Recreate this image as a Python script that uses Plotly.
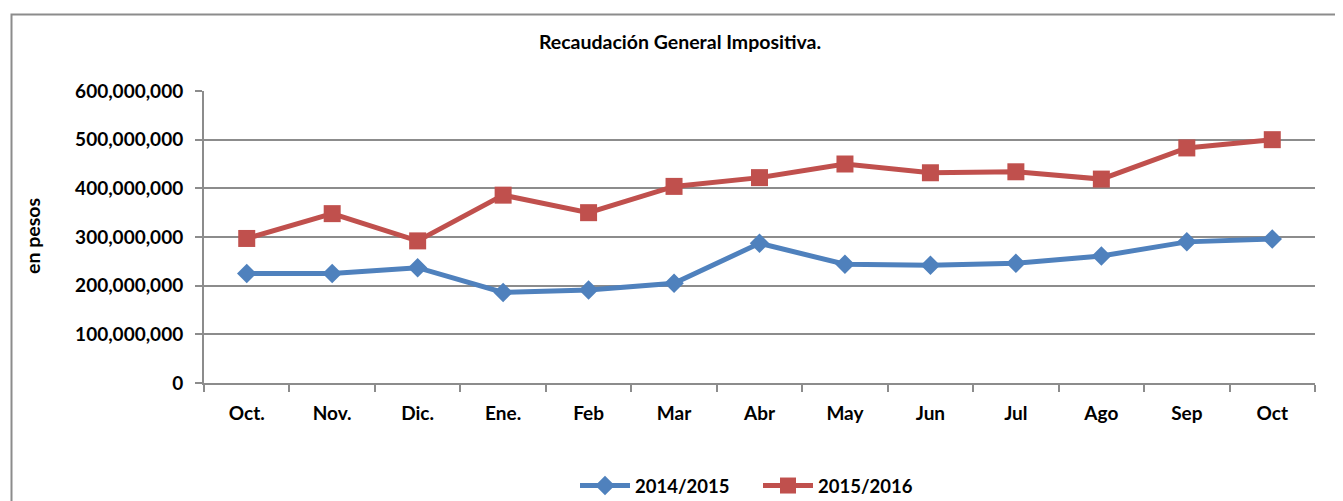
import plotly.graph_objects as go

months = ["Oct.", "Nov.", "Dic.", "Ene.", "Feb", "Mar", "Abr", "May", "Jun", "Jul", "Ago", "Sep", "Oct"]
serie_2014_2015 = [225e6, 225e6, 237e6, 186e6, 191e6, 205e6, 287e6, 244e6, 242e6, 246e6, 261e6, 290e6, 296e6]
serie_2015_2016 = [297e6, 348e6, 292e6, 386e6, 350e6, 404e6, 422e6, 450e6, 432e6, 434e6, 419e6, 483e6, 500e6]
y_ticks = [0, 100e6, 200e6, 300e6, 400e6, 500e6, 600e6]
y_tick_labels = ["0", "100,000,000", "200,000,000", "300,000,000", "400,000,000", "500,000,000", "600,000,000"]

FONT = "Lato"
W, H = 1343, 501
OFF = 8  # page body margin offset
# target plot area in screen pixels: left 204, right 1315, top 91, bottom 383
L = 204 - OFF
T = 91 - OFF
R = W - (1315 - OFF)
B = H - (383 - OFF)
pw = W - L - R
ph = H - T - B

def sx(px):
    """screen x pixel -> paper x"""
    return (px - OFF - L) / pw

def sy(py):
    """screen y pixel -> paper y"""
    return (H - B - (py - OFF)) / ph

fig = go.Figure()
fig.add_trace(go.Scatter(
    x=months, y=serie_2014_2015, name="2014/2015", mode="lines+markers",
    line=dict(color="#4F81BD", width=5),
    marker=dict(symbol="diamond", size=15, color="#4F81BD"),
))
fig.add_trace(go.Scatter(
    x=months, y=serie_2015_2016, name="2015/2016", mode="lines+markers",
    line=dict(color="#C0504D", width=5),
    marker=dict(symbol="square", size=17, color="#C0504D"),
))

tickfont = dict(family=FONT, size=19, color="black", weight="bold")

fig.update_layout(
    width=W, height=H,
    margin=dict(l=L, r=R, t=T, b=B),
    paper_bgcolor="white", plot_bgcolor="white",
    font=dict(family=FONT, size=19, color="black"),
    title=dict(text="<b>Recaudación General Impositiva.</b>", xref="container", yref="container",
               x=(680 - OFF) / W, xanchor="center",
               y=1 - (42 - OFF) / H, yanchor="middle", font=dict(family=FONT, size=19.5, color="black")),
    showlegend=True,
    legend=dict(orientation="h", xref="container", yref="container",
                x=(758 - OFF) / W, xanchor="center",
                y=1 - (486 - OFF) / H, yanchor="middle",
                font=dict(family=FONT, size=18.5, color="black", weight="bold"),
                itemwidth=50, entrywidth=118,
                bgcolor="rgba(0,0,0,0)"),
    xaxis=dict(
        type="category", range=[-0.5, len(months) - 0.5],
        showline=True, linecolor="#8C8C8C", linewidth=2,
        ticks="outside", tickson="boundaries", ticklen=7, tickcolor="#8C8C8C", tickwidth=2,
        showgrid=False, tickfont=tickfont,
        ticklabelstandoff=12,
    ),
    yaxis=dict(
        range=[0, 600e6], tickmode="array", tickvals=y_ticks, ticktext=y_tick_labels,
        showline=True, linecolor="#8C8C8C", linewidth=2,
        ticks="outside", ticklen=7, tickcolor="#8C8C8C", tickwidth=2,
        showgrid=True, gridcolor="#8C8C8C", gridwidth=2, zeroline=False,
        tickfont=tickfont,
        ticklabelstandoff=8,
    ),
)

fig.add_annotation(
    text="<b>en pesos</b>", textangle=-90, xref="paper", yref="paper",
    x=sx(32), y=sy(236), xanchor="center", yanchor="middle",
    showarrow=False, font=dict(family=FONT, size=19.5, color="black"),
)

# chart area border (extends beyond the visible window on the right and bottom)
fig.add_shape(type="rect", xref="paper", yref="paper",
              x0=sx(11.5), x1=sx(1400),
              y0=sy(560), y1=sy(14.5),
              line=dict(color="#8C8C8C", width=2), fillcolor="rgba(0,0,0,0)", layer="below")

fig.write_html("out.html")
